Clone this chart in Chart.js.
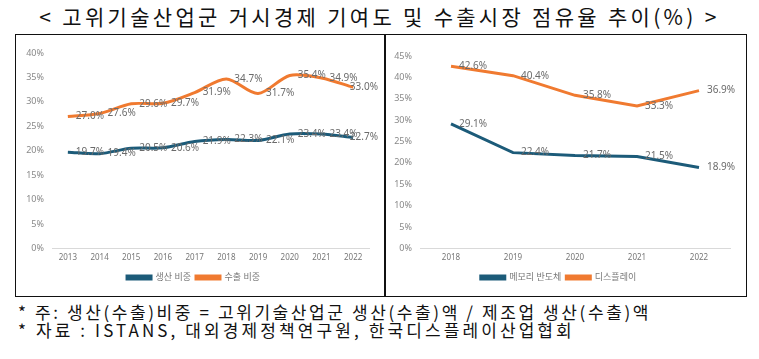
<!DOCTYPE html>
<html>
<head>
<meta charset="utf-8">
<script src="https://cdn.jsdelivr.net/npm/chart.js@4"></script>
<style>
  body { margin: 0; width: 759px; height: 359px; background: #fff; position: relative; overflow: hidden;
         font-family: "Noto Sans CJK KR", "Noto Sans", sans-serif; }
  #title { position: absolute; left: 0; top: 3px; width: 759px; text-align: center; font-size: 21px;
           color: #111; letter-spacing: 3.3px; line-height: 26px; }
  .box { position: absolute; top: 34px; height: 263px; border: 1.5px solid #111; box-sizing: border-box; }
  #boxL { left: 15px; width: 371px; }
  #boxR { left: 384px; width: 363px; }
  .note { position: absolute; left: 18px; font-size: 17px; color: #111; line-height: 18px; }
</style>
</head>
<body>
<div id="title">&lt; 고위기술산업군 거시경제 기여도 및 수출시장 점유율 추이(%) &gt;</div>
<div class="box" id="boxL"><canvas id="chartL"></canvas></div>
<div class="box" id="boxR"><canvas id="chartR"></canvas></div>
<div class="note" style="top:303px; letter-spacing:2.6px">* 주: 생산(수출)비중 = 고위기술산업군 생산(수출)액 / 제조업 생산(수출)액</div>
<div class="note" style="top:321px; letter-spacing:3.1px">* 자료 : ISTANS, 대외경제정책연구원, 한국디스플레이산업협회</div>
<script>
// left chart: 고위기술산업군
var years_left = ["2013", "2014", "2015", "2016", "2017", "2018", "2019", "2020", "2021", "2022"];
var production_share = [19.7, 19.4, 20.5, 20.6, 21.9, 22.3, 22.1, 23.4, 23.4, 22.7];
var export_share = [27.0, 27.6, 29.6, 29.7, 31.9, 34.7, 31.7, 35.4, 34.9, 33.0];

// right chart: 메모리 반도체 / 디스플레이
var years_right = ["2018", "2019", "2020", "2021", "2022"];
var memory_share = [29.1, 22.4, 21.7, 21.5, 18.9];
var display_share = [42.6, 40.4, 35.8, 33.3, 36.9];

var TEAL = "#1c5b79";
var ORANGE = "#f07a30";
var FONT = "'Noto Sans', 'Noto Sans CJK KR', sans-serif";

Chart.defaults.font.family = FONT;
Chart.defaults.animation = false;

// value labels to the right of each point
var pointLabels = {
    id: "pointLabels",
    afterDatasetsDraw: function(chart) {
        var ctx = chart.ctx;
        ctx.save();
        ctx.font = "10px " + FONT;
        ctx.fillStyle = "#6b6b6b";
        ctx.textBaseline = "middle";
        ctx.textAlign = "left";
        chart.data.datasets.forEach(function(ds, i) {
            chart.getDatasetMeta(i).data.forEach(function(pt, j) {
                var txt = ds.data[j].toFixed(1) + "%";
                var w = ctx.measureText(txt).width;
                var x = pt.x + 8;
                if (x + w > chart.width - 6) x = chart.width - 6 - w;
                ctx.fillText(txt, x, pt.y);
            });
        });
        ctx.restore();
    }
};

function make_chart(id, w, h, labels, sets, ymax, tension, yWidth, pad) {
    var cv = document.getElementById(id);
    cv.width = w; cv.height = h;
    cv.style.width = w + "px"; cv.style.height = h + "px";
    return new Chart(cv.getContext("2d"), {
        type: "line",
        data: {
            labels: labels,
            datasets: sets.map(function(s) {
                return {
                    label: s[0],
                    data: s[1],
                    borderColor: s[2],
                    backgroundColor: s[2],
                    borderWidth: 3,
                    radius: 0,
                    tension: tension,
                    fill: false
                };
            })
        },
        options: {
            responsive: false,
            layout: { padding: pad },
            plugins: {
                legend: {
                    position: "bottom",
                    labels: { boxWidth: 24, boxHeight: 3, color: "#777", font: { size: 9 }, padding: 5 }
                },
                tooltip: { enabled: false }
            },
            scales: {
                x: {
                    offset: true,
                    grid: { display: false, drawTicks: false },
                    border: { color: "#d9d9d9" },
                    ticks: { color: "#777", font: { size: 8 }, padding: 5 }
                },
                y: {
                    min: 0,
                    max: ymax,
                    grid: { display: false, drawTicks: false },
                    border: { display: false },
                    ticks: {
                        stepSize: 5,
                        color: "#888",
                        font: { size: 9 },
                        padding: 8,
                        callback: function(v) { return v + "%"; }
                    },
                    afterFit: function(s) { s.width = yWidth; }
                }
            }
        },
        plugins: [pointLabels]
    });
}

make_chart("chartL", 368, 257, years_left, [
    ["생산 비중", production_share, TEAL],
    ["수출 비중", export_share, ORANGE]
], 40, 0.3, 34, { top: 18, left: 2, right: 15, bottom: 0 });

make_chart("chartR", 360, 257, years_right, [
    ["메모리 반도체", memory_share, TEAL],
    ["디스플레이", display_share, ORANGE]
], 45, 0, 33, { top: 21, left: 2, right: 15, bottom: 0 });
</script>
</body>
</html>
